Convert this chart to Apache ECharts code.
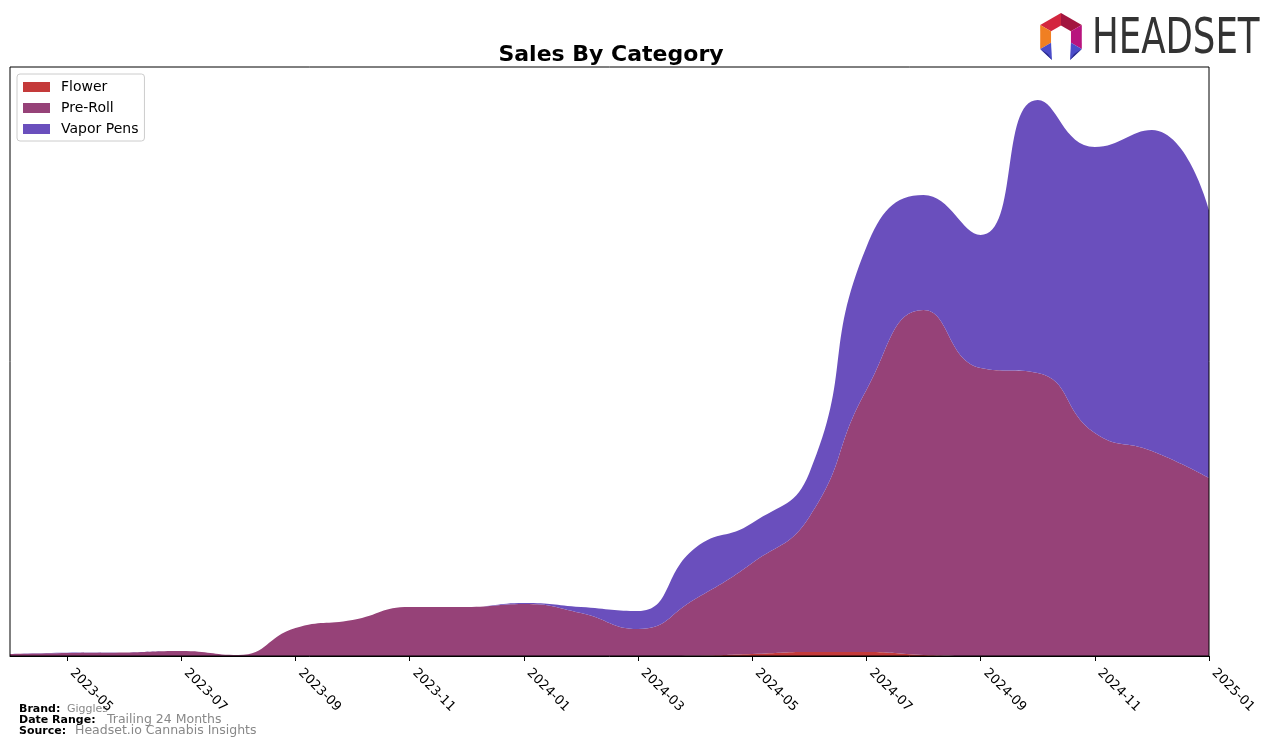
<!DOCTYPE html>
<html>
<head>
<meta charset="utf-8">
<script src="https://cdn.jsdelivr.net/npm/echarts@6/dist/echarts.min.js"></script>
<style>
html,body{margin:0;padding:0;background:#fff;}
#chart{width:1276px;height:747px;}
</style>
</head>
<body>
<div id="chart"></div>
<script>
const months = ['2023-04','2023-05','2023-06','2023-07','2023-08','2023-09','2023-10','2023-11','2023-12',
  '2024-01','2024-02','2024-03','2024-04','2024-05','2024-06','2024-07','2024-08','2024-09','2024-10','2024-11','2024-12','2025-01'];
const flower   = [0,0,0,0,0,0,0,0,0,0,0,0,0.3,2,4,4,1,0,0,0,0,0];
const preRoll  = [2,3,3.5,5,1,28,36,49,49,52,43,27,56.7,91,135,262,345,288,283,223,205,178];
const vaporPens= [0,0.3,0,0,0,0,0,0,0,1,6,18,51,40,44,143,115,133,273,286,321,268];
const tickLabels = ['2023-05','2023-07','2023-09','2023-11','2024-01','2024-03','2024-05','2024-07','2024-09','2024-11','2025-01'];

const chart = echarts.init(document.getElementById('chart'));
const font = 'DejaVu Sans';
const showTick = (i, v) => tickLabels.indexOf(months[i]) >= 0;

function mkSeries(name, data, color) {
  return {
    name, type: 'line', stack: 'total', data, smooth: 0.5,
    symbol: 'none', lineStyle: {width: 0}, areaStyle: {color, opacity: 1},
    itemStyle: {color}
  };
}

// Logo geometry
const cx = 1061, cy = 37, R = 24, r = 11.5;
function pt(rad, ang) { const a = ang * Math.PI / 180; return [cx + rad * Math.cos(a), cy + rad * Math.sin(a)]; }
const oT = pt(R,-90), oUR = pt(R,-30), oLR = pt(R,30), oLL = pt(R,150), oUL = pt(R,210);
const iT = pt(r,-90), iUR = pt(r,-30), iLR = pt(r,30), iLL = pt(r,150), iUL = pt(r,210);
function poly(points, fill) { return {type:'polygon', shape:{points}, style:{fill}, z:50}; }

chart.setOption({
  animation: false,
  title: {
    text: 'Sales By Category', left: 606, top: 39, textAlign: 'center',
    textStyle: {fontFamily: font, fontSize: 22, fontWeight: 'bold', color: '#000'}
  },
  legend: {
    orient: 'vertical', left: 17, top: 74,
    data: ['Flower','Pre-Roll','Vapor Pens'],
    itemWidth: 27, itemHeight: 10, itemGap: 7,
    padding: [6, 6, 5, 6],
    borderColor: '#cccccc', borderWidth: 1, borderRadius: 3,
    backgroundColor: '#fff',
    icon: 'rect',
    textStyle: {fontFamily: font, fontSize: 14, color: '#000', padding: [0,0,0,6]}
  },
  grid: {left: 10, right: 67, top: 67, bottom: 91, containLabel: false},
  xAxis: {
    type: 'category', data: months, boundaryGap: false,
    axisLine: {lineStyle: {color: '#000', width: 1}},
    axisTick: {show: true, interval: showTick, length: 5, lineStyle: {color: '#000'}},
    axisLabel: {
      interval: showTick, rotate: -45, margin: 10, padding: [0,0,0,7],
      fontFamily: font, fontSize: 13, color: '#000'
    },
    splitLine: {show: false}
  },
  yAxis: {
    type: 'value', min: 0, max: 589,
    axisLabel: {show: false}, axisTick: {show: false}, axisLine: {show: false}, splitLine: {show: false}
  },
  series: [
    mkSeries('Flower', flower, '#c43a3a'),
    mkSeries('Pre-Roll', preRoll, '#964278'),
    mkSeries('Vapor Pens', vaporPens, '#6a4fbd')
  ],
  graphic: [
    {type:'rect', shape:{x:10, y:67, width:1199, height:589}, style:{fill:'none', stroke:'#000', lineWidth:1}, z:100, silent:true},
    poly([oT, oUL, iUL, iT], '#d3263f'),
    poly([oT, oUR, iUR, iT], '#a3163f'),
    poly([oUR, oLR, iLR, iUR], '#b8147e'),
    poly([oUL, oLL, iLL, iUL], '#f07f22'),
    poly([oLL, iLL, [cx-9, cy+23]], '#4b4cc9'),
    poly([oLL, [cx-9, cy+23], [cx-13, cy+17]], '#2c2d8c'),
    poly([oLR, iLR, [cx+9, cy+23]], '#4b4cc9'),
    poly([oLR, [cx+9, cy+23], [cx+13, cy+17]], '#2c2d8c'),
    {type:'text', left: 1092, top: 15, z:50,
      style:{text:'HEADSET', fill:'#333333', font:'normal 50px "Liberation Sans Narrow", "DejaVu Sans Condensed", sans-serif'},
      scaleX: 0.79},
    {type:'text', left: 19, top: 704, style:{text:'Brand:', fill:'#000', font:'bold 11px "DejaVu Sans"'}},
    {type:'text', left: 67, top: 704, style:{text:'Giggles', fill:'#888', font:'11px "DejaVu Sans"'}},
    {type:'text', left: 19, top: 715, style:{text:'Date Range:', fill:'#000', font:'bold 11px "DejaVu Sans"'}},
    {type:'text', left: 107, top: 713, style:{text:'Trailing 24 Months', fill:'#888', font:'12.5px "DejaVu Sans"'}},
    {type:'text', left: 19, top: 726, style:{text:'Source:', fill:'#000', font:'bold 11px "DejaVu Sans"'}},
    {type:'text', left: 75, top: 724, style:{text:'Headset.io Cannabis Insights', fill:'#888', font:'12.5px "DejaVu Sans"'}}
  ]
});
</script>
</body>
</html>
